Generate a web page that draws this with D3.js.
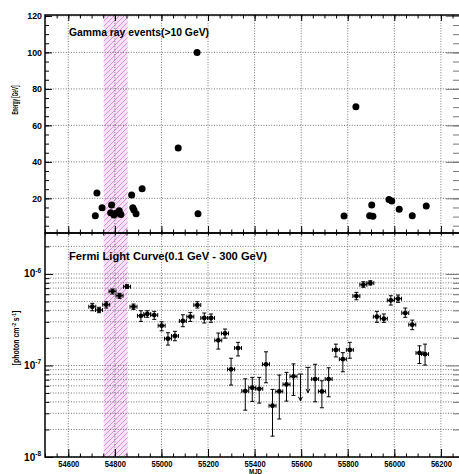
<!DOCTYPE html>
<html>
<head>
<meta charset="utf-8">
<script src="https://cdn.jsdelivr.net/npm/d3@7"></script>
<style>
body { margin:0; background:#fff; }
text { font-family:'Liberation Sans', Arial, Helvetica, sans-serif; font-weight:bold; fill:#000; }
</style>
</head>
<body>
<div id="chartArea"></div>
<script>
// gamma ray events (>10 GeV)
var eventMjd = [54716, 54723, 54745, 54782, 54786, 54796, 54805, 54819, 54826,
                54872, 54877, 54882, 54891, 54917, 55072, 55153, 55157,
                55784, 55835, 55894, 55903, 55908, 55977, 55989, 56021, 56077, 56137];
var eventEnergy = [10.5, 22.9, 14.8, 12.1, 16.3, 10.8, 11.8, 13.2, 11.2,
                   21.8, 14.8, 13.6, 11.6, 25.3, 47.6, 99.9, 11.6,
                   10.3, 70.2, 10.5, 16.3, 10.2, 19.4, 18.5, 14.0, 10.5, 15.8];

// fermi light curve (0.1 - 300 GeV), flux, lower and upper end of error bar
var lcMjd = [54703, 54732, 54763, 54790, 54820, 54852, 54880, 54912, 54939, 54969,
             55001, 55028, 55058, 55092, 55124, 55154, 55184, 55213, 55244, 55273,
             55299, 55329, 55360, 55390, 55420, 55449, 55477, 55506, 55537, 55567,
             55660, 55689, 55718, 55749, 55779, 55809, 55837, 55867, 55897, 55925,
             55955, 55985, 56016, 56047, 56077, 56108, 56132];
var lcFlux = [4.38e-7, 4.03e-7, 4.61e-7, 6.45e-7, 5.78e-7, 7.25e-7, 4.38e-7, 3.49e-7, 3.65e-7, 3.55e-7,
              2.72e-7, 1.96e-7, 2.10e-7, 3.06e-7, 3.41e-7, 4.57e-7, 3.30e-7, 3.30e-7, 1.88e-7, 2.24e-7,
              9.07e-8, 1.55e-7, 5.25e-8, 5.71e-8, 5.56e-8, 1.03e-7, 3.63e-8, 5.21e-8, 6.21e-8, 7.60e-8,
              7.10e-8, 5.21e-8, 7.10e-8, 1.48e-7, 1.17e-7, 1.48e-7, 5.73e-7, 7.62e-7, 7.95e-7, 3.41e-7,
              3.24e-7, 5.15e-7, 5.36e-7, 3.74e-7, 2.79e-7, 1.37e-7, 1.33e-7];
var lcLow = [3.96e-7, 3.77e-7, 4.24e-7, 6.03e-7, 5.41e-7, 6.96e-7, 4.10e-7, 3.03e-7, 3.36e-7, 3.19e-7,
             2.39e-7, 1.67e-7, 1.86e-7, 2.65e-7, 3.03e-7, 4.24e-7, 2.91e-7, 2.96e-7, 1.51e-7, 1.99e-7,
             6.11e-8, 1.27e-7, 3.25e-8, 4.05e-8, 3.88e-8, 6.47e-8, 1.69e-8, 2.60e-8, 4.08e-8, 4.71e-8,
             4.01e-8, 3.45e-8, 4.55e-8, 1.24e-7, 8.53e-8, 1.20e-7, 5.22e-7, 7.14e-7, 7.56e-7, 2.96e-7,
             2.96e-7, 4.57e-7, 4.89e-7, 3.36e-7, 2.46e-7, 1.05e-7, 1.01e-7];
var lcHigh = [4.77e-7, 4.32e-7, 4.97e-7, 6.84e-7, 6.14e-7, 7.62e-7, 4.69e-7, 3.96e-7, 3.96e-7, 3.90e-7,
              3.00e-7, 2.28e-7, 2.36e-7, 3.58e-7, 3.80e-7, 4.97e-7, 3.74e-7, 3.65e-7, 2.26e-7, 2.50e-7,
              1.20e-7, 1.79e-7, 7.15e-8, 7.41e-8, 7.41e-8, 1.41e-7, 5.48e-8, 7.86e-8, 8.41e-8, 1.04e-7,
              1.03e-7, 6.80e-8, 9.44e-8, 1.71e-7, 1.38e-7, 1.79e-7, 6.29e-7, 8.22e-7, 8.43e-7, 3.90e-7,
              3.65e-7, 5.78e-7, 5.88e-7, 4.24e-7, 3.13e-7, 1.64e-7, 1.71e-7];
var lcHalfBin = 15;

// upper limits
var ulMjd = [55597, 55629];
var ulFlux = [8.05e-8, 9.53e-8];
var ulArrowEnd = [4.11e-8, 5.03e-8];

// highlighted period
var bandMjd = [54752, 54855];

// ticks
var xMajor = [54600, 54800, 55000, 55200, 55400, 55600, 55800, 56000, 56200];
var energyMajor = [20, 40, 60, 80, 100, 120];
var fluxMajor = [1e-8, 1e-7, 1e-6];

var W = 459, H = 474;
var left = 45, right = 460;
var topY0 = 15, topY1 = 233, botY0 = 233, botY1 = 457;

var x = d3.scaleLinear().domain([54500, 56282]).range([left, right]);
var yTop = d3.scaleLinear().domain([1, 120.5]).range([topY1, topY0]);
var yBot = d3.scaleLog().domain([1e-8, 2.8e-6]).range([botY1, botY0]);

var xMinor = d3.range(54500, 56282, 50);
var energyMinor = d3.range(5, 121, 5);
var fluxMinor = [];
fluxMajor.forEach(function(d){
	for(var k=2; k<10; k++){
		if(k*d <= 2.8e-6){ fluxMinor.push(k*d); }
	}
});

var svg = d3.select('#chartArea').append('svg')
	.attr('width', W).attr('height', H);

// hatch pattern for the band
var pat = svg.append('defs').append('pattern')
	.attr('id', 'hatch')
	.attr('patternUnits', 'userSpaceOnUse')
	.attr('width', 5).attr('height', 5);
pat.append('rect').attr('width', 5).attr('height', 5).attr('fill', '#f8e2f8');
pat.append('path')
	.attr('d', 'M0,5 L5,0 M-1,1 L1,-1 M4,6 L6,4')
	.attr('stroke', '#d98ad9').attr('stroke-width', 0.9);

svg.append('rect')
	.attr('x', x(bandMjd[0])).attr('y', topY0)
	.attr('width', x(bandMjd[1]) - x(bandMjd[0]))
	.attr('height', botY1 - topY0)
	.attr('fill', 'url(#hatch)');

// grid
var grid = svg.append('g')
	.attr('stroke', '#555').attr('stroke-width', 0.8).attr('stroke-dasharray', '1,1.6');

grid.selectAll('.vTop').data(xMajor).enter().append('line')
	.attr('x1', function(d){ return x(d); }).attr('x2', function(d){ return x(d); })
	.attr('y1', topY0).attr('y2', botY1);

grid.selectAll('.hTop').data(energyMajor).enter().append('line')
	.attr('x1', left).attr('x2', right)
	.attr('y1', function(d){ return yTop(d); }).attr('y2', function(d){ return yTop(d); });

grid.selectAll('.hBot').data(fluxMajor.concat(fluxMinor)).enter().append('line')
	.attr('x1', left).attr('x2', right)
	.attr('y1', function(d){ return yBot(d); }).attr('y2', function(d){ return yBot(d); });

// axes
function addAxis(axis, tx, ty, color, fontSize){
	var g = svg.append('g').attr('transform', 'translate(' + tx + ',' + ty + ')').call(axis);
	g.select('.domain').remove();
	g.selectAll('line').attr('stroke', color || '#000').attr('stroke-width', 1);
	g.selectAll('text').attr('font-size', fontSize || 9).attr('fill', '#000')
		.attr('font-family', "'Liberation Sans', Arial, sans-serif").attr('font-weight', 'bold');
	return g;
}
function noLabel(){ return ''; }

// top panel
addAxis(d3.axisRight(yTop).tickValues(energyMinor).tickSize(4).tickFormat(noLabel), left, 0);
var eLab = addAxis(d3.axisLeft(yTop).tickValues(energyMajor).tickSizeInner(-7).tickSizeOuter(0).tickPadding(3), left, 0, '#000', 9.5);
eLab.selectAll('text').attr('textLength', function(d){ return String(d).length * 4.9; })
	.attr('lengthAdjust', 'spacingAndGlyphs');
addAxis(d3.axisLeft(yTop).tickValues(energyMinor).tickSize(7).tickFormat(noLabel), right, 0, '#777');
addAxis(d3.axisLeft(yTop).tickValues(energyMajor).tickSize(14).tickFormat(noLabel), right, 0, '#777');

addAxis(d3.axisBottom(x).tickValues(xMinor).tickSize(3.5).tickFormat(noLabel), 0, topY0);
addAxis(d3.axisBottom(x).tickValues(xMajor).tickSize(6).tickFormat(noLabel), 0, topY0);
addAxis(d3.axisTop(x).tickValues(xMinor).tickSize(3.5).tickFormat(noLabel), 0, topY1);
addAxis(d3.axisTop(x).tickValues(xMajor).tickSize(7).tickFormat(noLabel), 0, topY1);

// bottom panel
addAxis(d3.axisBottom(x).tickValues(xMinor).tickSize(2.5).tickFormat(noLabel), 0, botY0);
addAxis(d3.axisTop(x).tickValues(xMinor).tickSize(3.5).tickFormat(noLabel), 0, botY1);
var xLab = addAxis(d3.axisBottom(x).tickValues(xMajor).tickFormat(d3.format('d'))
	.tickSizeInner(-8).tickSizeOuter(0).tickPadding(3), 0, botY1, '#000', 9.5);
xLab.selectAll('text').attr('textLength', 21).attr('lengthAdjust', 'spacingAndGlyphs');

addAxis(d3.axisRight(yBot).tickValues(fluxMinor).tickSize(4.5).tickFormat(noLabel), left, 0);
addAxis(d3.axisRight(yBot).tickValues(fluxMajor).tickSize(8).tickFormat(noLabel), left, 0);
addAxis(d3.axisLeft(yBot).tickValues(fluxMinor).tickSize(7).tickFormat(noLabel), right, 0, '#777');
addAxis(d3.axisLeft(yBot).tickValues(fluxMajor).tickSize(14).tickFormat(noLabel), right, 0, '#777');

var fLab = svg.append('g').selectAll('text').data(fluxMajor).enter().append('text')
	.attr('x', 41).attr('y', function(d){ return yBot(d) + 3.5; })
	.attr('text-anchor', 'end').attr('font-size', 10);
fLab.append('tspan').text('10');
fLab.append('tspan').attr('font-size', 6.5).attr('dy', -4.5)
	.text(function(d){ return String(Math.round(Math.log10(d))); });

// frames
svg.append('rect').attr('x', left).attr('y', topY0).attr('width', right - left).attr('height', topY1 - topY0)
	.attr('fill', 'none').attr('stroke', '#000').attr('stroke-width', 1.5);
svg.append('rect').attr('x', left).attr('y', botY0).attr('width', right - left).attr('height', botY1 - botY0)
	.attr('fill', 'none').attr('stroke', '#000').attr('stroke-width', 1.5);

// event markers
svg.append('g').selectAll('circle').data(eventMjd).enter().append('circle')
	.attr('cx', function(d){ return x(d); })
	.attr('cy', function(d, i){ return yTop(eventEnergy[i]); })
	.attr('r', 3.5).attr('fill', '#000');

// light curve
function drawLine(g, x1, y1, x2, y2, w, color){
	return g.append('line').attr('x1', x1).attr('y1', y1).attr('x2', x2).attr('y2', y2)
		.attr('stroke', color).attr('stroke-width', w);
}

var lc = svg.append('g');
for(var i=0; i<lcMjd.length; i++){
	var cx = x(lcMjd[i]), cy = yBot(lcFlux[i]);
	var xl = x(lcMjd[i] - lcHalfBin), xr = x(lcMjd[i] + lcHalfBin);
	var yh = yBot(lcHigh[i]), yl = yBot(lcLow[i]);
	drawLine(lc, xl, cy, xr, cy, 1, '#000');
	drawLine(lc, xl, cy - 2, xl, cy + 2, 1, '#000');
	drawLine(lc, xr, cy - 2, xr, cy + 2, 1, '#000');
	drawLine(lc, cx, yh, cx, yl, 1, '#000');
	drawLine(lc, cx - 2, yh, cx + 2, yh, 1, '#000');
	drawLine(lc, cx - 2, yl, cx + 2, yl, 1, '#000');
	lc.append('circle').attr('cx', cx).attr('cy', cy).attr('r', 2.4).attr('fill', '#000');
}
for(var j=0; j<ulMjd.length; j++){
	var ux = x(ulMjd[j]), uy = yBot(ulFlux[j]), ue = yBot(ulArrowEnd[j]);
	drawLine(lc, ux - 2.5, uy, ux + 2.5, uy, 1, '#000');
	drawLine(lc, ux, uy, ux, ue, 1, '#000');
	lc.append('path').attr('d', 'M' + (ux - 2) + ',' + (ue - 4) + 'L' + ux + ',' + ue + 'L' + (ux + 2) + ',' + (ue - 4))
		.attr('fill', 'none').attr('stroke', '#000').attr('stroke-width', 1);
}

// texts
function drawText(str, tx, ty, size, len){
	var t = svg.append('text').attr('x', tx).attr('y', ty).attr('font-size', size).text(str);
	if(len){ t.attr('textLength', len).attr('lengthAdjust', 'spacingAndGlyphs'); }
	return t;
}
drawText('Gamma ray events(>10 GeV)', 69, 36, 10, 140);
drawText('Fermi Light Curve(0.1 GeV - 300 GeV)', 69, 260, 10.5, 198);
drawText('MJD', 249, 473.5, 7, 13);

svg.append('g').attr('transform', 'translate(18,100) rotate(-90)')
	.append('text').attr('text-anchor', 'middle').attr('font-size', 8.5)
	.attr('textLength', 29).attr('lengthAdjust', 'spacingAndGlyphs')
	.text('Energy [GeV]');

var fluxTitle = svg.append('g').attr('transform', 'translate(19,338) rotate(-90) scale(0.82,1)')
	.append('text').attr('text-anchor', 'middle').attr('font-size', 8.5);
fluxTitle.append('tspan').text('[photon cm');
fluxTitle.append('tspan').attr('font-size', 6).attr('dy', -3.5).text('-2');
fluxTitle.append('tspan').attr('dy', 3.5).text(' s');
fluxTitle.append('tspan').attr('font-size', 6).attr('dy', -3.5).text('-1');
fluxTitle.append('tspan').attr('dy', 3.5).text(']');
</script>
</body>
</html>
